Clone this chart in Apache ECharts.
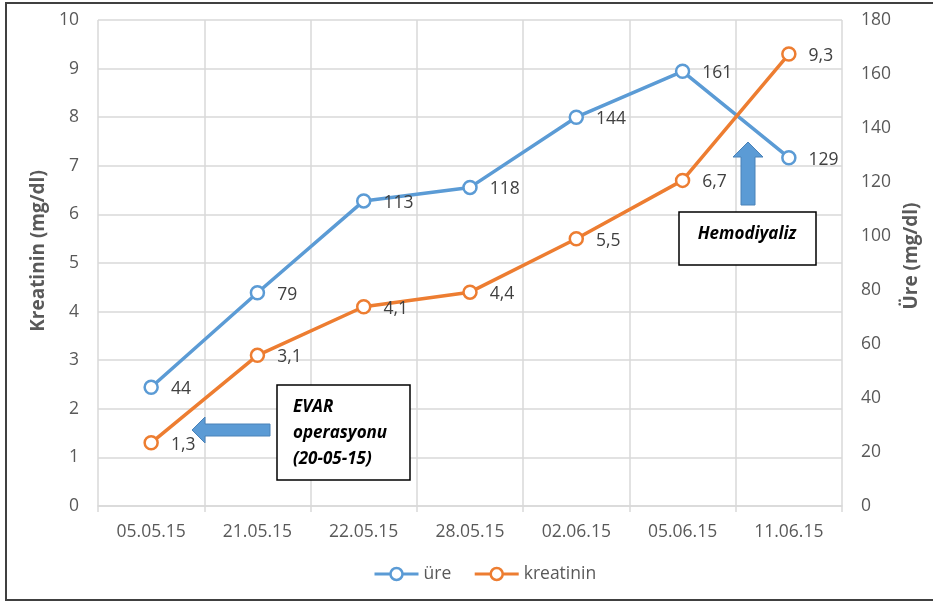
<!DOCTYPE html>
<html>
<head>
<meta charset="utf-8">
<script src="https://cdn.jsdelivr.net/npm/echarts@6/dist/echarts.min.js"></script>
<style>
  html, body { margin: 0; padding: 0; background: #fff; }
  #chart { width: 933px; height: 603px; }
</style>
</head>
<body>
<div id="chart"></div>
<script>
// Measurement dates
const dates = ['05.05.15', '21.05.15', '22.05.15', '28.05.15', '02.06.15', '05.06.15', '11.06.15'];
// Urea (mg/dl), right axis
const ure = [44, 79, 113, 118, 144, 161, 129];
// Creatinine (mg/dl), left axis
const kreatinin = [1.3, 3.1, 4.1, 4.4, 5.5, 6.7, 9.3];

const FONT = '"Open Sans", sans-serif';
const BLUE = '#5B9BD5';
const ORANGE = '#ED7D31';
const TEXT = '#595959';

const commaLabel = p => String(p.value).replace('.', ',');

const chart = echarts.init(document.getElementById('chart'), null, { renderer: 'canvas' });

chart.setOption({
  backgroundColor: '#fff',
  animation: false,
  textStyle: { fontFamily: FONT },
  grid: { left: 98, right: 91, top: 20, bottom: 97, containLabel: false },
  legend: {
    bottom: 15,
    left: 368,
    itemWidth: 44,
    itemHeight: 15,
    itemGap: 22,
    lineStyle: { width: 3 },
    itemStyle: { borderWidth: 2.5 },
    textStyle: { fontFamily: FONT, fontSize: 17.5, color: TEXT },
    data: ['üre', 'kreatinin']
  },
  xAxis: {
    type: 'category',
    data: dates,
    boundaryGap: true,
    axisLine: { show: true, lineStyle: { color: '#d9d9d9', width: 1.5 } },
    axisTick: { show: true, length: 6, lineStyle: { color: '#d9d9d9', width: 1.5 } },
    axisLabel: { color: TEXT, fontSize: 17.5, fontFamily: FONT, margin: 17 },
    splitLine: { show: true, lineStyle: { color: '#d9d9d9', width: 1.5 } }
  },
  yAxis: [
    {
      type: 'value',
      min: 0, max: 10, interval: 1,
      position: 'left',
      name: 'Kreatinin (mg/dl)',
      nameLocation: 'middle',
      nameGap: 47,
      nameTextStyle: { fontFamily: FONT, fontSize: 19, fontWeight: 'bold', color: TEXT, padding: [0, 0, 0, 24] },
      axisLine: { show: false },
      axisTick: { show: false },
      axisLabel: { color: TEXT, fontSize: 17.5, fontFamily: FONT, margin: 19 },
      splitLine: { show: true, lineStyle: { color: '#d9d9d9', width: 1.5 } }
    },
    {
      type: 'value',
      min: 0, max: 180, interval: 20,
      position: 'right',
      name: 'Üre (mg/dl)',
      nameLocation: 'middle',
      nameGap: 57,
      nameRotate: 90,
      nameTextStyle: { fontFamily: FONT, fontSize: 19, fontWeight: 'bold', color: TEXT, padding: [0, 0, 0, 14] },
      axisLine: { show: false },
      axisTick: { show: false },
      axisLabel: { color: TEXT, fontSize: 17.5, fontFamily: FONT, margin: 19 },
      splitLine: { show: false }
    }
  ],
  series: [
    {
      name: 'üre',
      type: 'line',
      yAxisIndex: 1,
      data: ure,
      symbol: 'circle',
      symbolSize: 13,
      lineStyle: { color: BLUE, width: 3.5 },
      itemStyle: { color: '#fff', borderColor: BLUE, borderWidth: 2.5 },
      label: { show: true, position: 'right', distance: 12, color: '#404040', fontSize: 17.5, fontFamily: FONT, offset: [0, 2], formatter: commaLabel },
      z: 3
    },
    {
      name: 'kreatinin',
      type: 'line',
      yAxisIndex: 0,
      data: kreatinin,
      symbol: 'circle',
      symbolSize: 13,
      lineStyle: { color: ORANGE, width: 3.5 },
      itemStyle: { color: '#fff', borderColor: ORANGE, borderWidth: 2.5 },
      label: { show: true, position: 'right', distance: 12, color: '#404040', fontSize: 17.5, fontFamily: FONT, offset: [0, 2], formatter: commaLabel },
      z: 4
    }
  ],
  graphic: [
    // outer chart frame
    { type: 'rect', z: -10, silent: true,
      shape: { x: 6, y: 3, width: 940, height: 597 },
      style: { fill: 'none', stroke: '#404040', lineWidth: 2 } },
    // EVAR note box
    { type: 'rect', z: 20,
      shape: { x: 277, y: 385, width: 133, height: 95 },
      style: { fill: '#fff', stroke: '#000', lineWidth: 1.5 } },
    { type: 'text', z: 21, left: 293, top: 394,
      style: { text: 'EVAR\noperasyonu\n(20-05-15)', fill: '#000', font: 'italic bold 17px ' + FONT, lineHeight: 26 } },
    // arrow pointing at the first reading
    { type: 'polygon', z: 20,
      shape: { points: [[270, 424], [205, 424], [205, 417], [192, 430], [205, 443], [205, 436], [270, 436]] },
      style: { fill: BLUE, stroke: '#4A82B8', lineWidth: 1 } },
    // Hemodialysis note box
    { type: 'rect', z: 20,
      shape: { x: 679, y: 212, width: 137, height: 53 },
      style: { fill: '#fff', stroke: '#000', lineWidth: 1.5 } },
    { type: 'text', z: 21, x: 747, y: 234,
      style: { text: 'Hemodiyaliz', fill: '#000', font: 'italic bold 17px ' + FONT, align: 'center', verticalAlign: 'middle' } },
    // upward arrow
    { type: 'polygon', z: 20,
      shape: { points: [[741, 205], [741, 157], [733, 157], [748, 142], [763, 157], [755, 157], [755, 205]] },
      style: { fill: BLUE, stroke: '#4A82B8', lineWidth: 1 } }
  ]
});
</script>
</body>
</html>
